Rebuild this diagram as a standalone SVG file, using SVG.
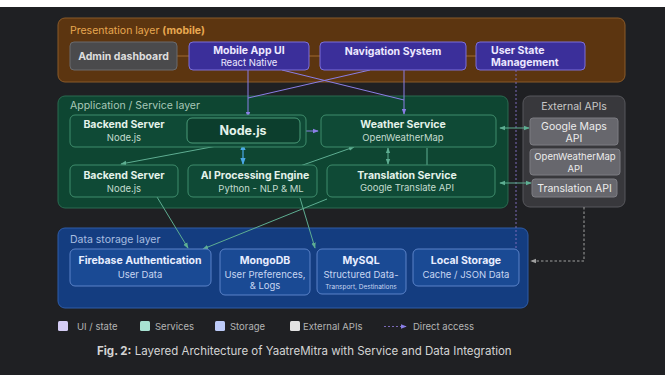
<svg xmlns="http://www.w3.org/2000/svg" width="665" height="392" viewBox="0 0 665 392">
<defs>
<style>
text{font-family:Inter,"Noto Sans","Liberation Sans",sans-serif;}
.lt{font-size:10.5px;}
.b{font-weight:700;font-size:10.5px;}
.s{font-size:9.5px;}
.pn{fill:#3b2f9a;stroke:#7c6fd8;stroke-width:1;}
.pt{fill:#ece8ff;}
.gn{fill:#0f4a36;stroke:#3f8c6c;stroke-width:1;}
.gt{fill:#e4f2ea;}
.gs{fill:#c4dccf;}
.en{fill:#67676d;stroke:#7c7c82;stroke-width:1;}
.et{fill:#ececec;}
.sn{fill:#1a4a94;stroke:#5a82c8;stroke-width:1;}
.st{fill:#e8eeff;}
.ss{fill:#c8d6f2;}
.lp{stroke:#8a7ee6;stroke-width:1;fill:none;}
.lg{stroke:#5eae92;stroke-width:1;fill:none;}
.lb{stroke:#4aa8e6;stroke-width:1.2;fill:none;}
.lo{stroke:#a06a30;stroke-width:1;fill:none;}
.leg{font-size:9.5px;fill:#b4b4b4;}
</style>
<marker id="ap" viewBox="0 0 8 8" refX="7" refY="4" markerWidth="6" markerHeight="6" orient="auto-start-reverse"><path d="M0,1 L8,4 L0,7 z" fill="#8a7ee6"/></marker>
<marker id="ag" viewBox="0 0 8 8" refX="7" refY="4" markerWidth="6" markerHeight="6" orient="auto-start-reverse"><path d="M0,1 L8,4 L0,7 z" fill="#5eae92"/></marker>
<marker id="ab" viewBox="0 0 8 8" refX="7" refY="4" markerWidth="6" markerHeight="6" orient="auto-start-reverse"><path d="M0,1 L8,4 L0,7 z" fill="#4aa8e6"/></marker>
<marker id="ay" viewBox="0 0 8 8" refX="7" refY="4" markerWidth="6" markerHeight="6" orient="auto-start-reverse"><path d="M0,1 L8,4 L0,7 z" fill="#a0a0a0"/></marker>
</defs>
<rect x="0" y="0" width="665" height="392" fill="#ffffff"/>
<rect x="0" y="7" width="665" height="368" fill="#1f2023"/>

<g id="presentation-layer">
<rect x="58" y="18" width="567" height="64" rx="7" fill="#5c3510" stroke="#8a5a28"/>
<text x="70" y="34" class="lt" fill="#e8a850">Presentation layer <tspan font-weight="700">(mobile)</tspan></text>
</g>
<g id="application-layer">
<rect x="58" y="96" width="450" height="112" rx="7" fill="#0e4632" stroke="#2a6a50"/>
<text x="70" y="109" class="lt" fill="#a8c8b8">Application / Service layer</text>
</g>
<g id="external-apis">
<rect x="523" y="96" width="102" height="111" rx="7" fill="#38383c" stroke="#57575c"/>
<text x="574" y="110" class="lt" fill="#c8c8c8" text-anchor="middle">External APIs</text>
</g>
<g id="storage-layer">
<rect x="58" y="228" width="470" height="80" rx="7" fill="#143d80" stroke="#2e5ca8"/>
<text x="70" y="243" class="lt" fill="#a8bee0">Data storage layer</text>
</g>

<g id="connectors">
<line x1="177" y1="56" x2="189" y2="56" class="lo"/>
<line x1="309" y1="56" x2="320" y2="56" class="lo"/>
<line x1="466" y1="56" x2="476" y2="56" class="lo"/>
<line x1="248" y1="70" x2="248" y2="117" class="lp" marker-end="url(#ap)"/>
<line x1="404" y1="70" x2="404" y2="114" class="lp" marker-end="url(#ap)"/>
<line x1="282" y1="70" x2="404" y2="100" class="lp"/>
<line x1="370" y1="70" x2="248" y2="98" class="lp"/>
<line x1="516" y1="70" x2="516" y2="248" stroke="#7a6ab8" stroke-width="1" stroke-dasharray="2,2"/>
<line x1="301" y1="131" x2="318" y2="131" class="lp" marker-start="url(#ap)" marker-end="url(#ap)"/>
<line x1="243" y1="144" x2="243" y2="164" class="lb" marker-start="url(#ab)" marker-end="url(#ab)"/>
<line x1="238" y1="142" x2="121" y2="164" class="lg" marker-end="url(#ag)"/>
<line x1="300" y1="166" x2="354" y2="147" class="lg" marker-end="url(#ag)"/>
<line x1="388" y1="148" x2="388" y2="164" class="lg" marker-start="url(#ag)" marker-end="url(#ag)"/>
<line x1="427" y1="148" x2="427" y2="165" class="lg"/>
<line x1="500" y1="128" x2="529" y2="128" class="lg" marker-start="url(#ag)" marker-end="url(#ag)"/>
<line x1="500" y1="183" x2="531" y2="183" class="lg" marker-start="url(#ag)" marker-end="url(#ag)"/>
<path d="M584,207 L584,261 L531,261" fill="none" stroke="#a0a0a0" stroke-width="1" stroke-dasharray="2.5,2" marker-end="url(#ay)"/>
<line x1="157" y1="197" x2="188" y2="248" class="lg" marker-end="url(#ag)"/>
<line x1="327" y1="199" x2="203" y2="249" class="lg" marker-end="url(#ag)"/>
<line x1="300" y1="198" x2="315" y2="248" class="lg" marker-end="url(#ag)"/>
</g>

<g id="admin-dashboard">
<rect x="70" y="42" width="107" height="28" rx="4" fill="#4a4a4c" stroke="#6a6a6c"/>
<text x="123.5" y="60" class="b" fill="#dedede" text-anchor="middle">Admin dashboard</text>
</g>
<g id="mobile-app-ui">
<rect x="189" y="42" width="120" height="28" rx="4" class="pn"/>
<text x="249" y="54" class="b pt" text-anchor="middle">Mobile App UI</text>
<text x="249" y="66" class="s pt" text-anchor="middle">React Native</text>
</g>
<g id="navigation-system">
<rect x="320" y="42" width="146" height="28" rx="4" class="pn"/>
<text x="393" y="55" class="b pt" text-anchor="middle">Navigation System</text>
</g>
<g id="user-state">
<rect x="476" y="42" width="109" height="28" rx="4" class="pn"/>
<text x="491" y="54" class="b pt">User State</text>
<text x="491" y="66" class="b pt">Management</text>
</g>

<g id="backend-server-top">
<rect x="70" y="115" width="236" height="32" rx="5" class="gn"/>
<text x="124" y="128" class="b gt" text-anchor="middle">Backend Server</text>
<text x="124" y="141" class="s gs" text-anchor="middle">Node.js</text>
</g>
<g id="nodejs">
<rect x="187" y="118" width="113" height="25" rx="5" fill="#0c3e2d" stroke="#4a9a78"/>
<text x="243" y="135" font-weight="700" font-size="12.5px" class="gt" text-anchor="middle">Node.js</text>
</g>
<g id="weather-service">
<rect x="321" y="115" width="175" height="32" rx="5" class="gn"/>
<text x="403" y="128" class="b gt" text-anchor="middle">Weather Service</text>
<text x="403" y="141" class="s gs" text-anchor="middle">OpenWeatherMap</text>
</g>
<g id="backend-server-bottom">
<rect x="70" y="165" width="108" height="32" rx="5" class="gn"/>
<text x="124" y="179" class="b gt" text-anchor="middle">Backend Server</text>
<text x="124" y="192" class="s gs" text-anchor="middle">Node.js</text>
</g>
<g id="ai-engine">
<rect x="188" y="165" width="129" height="32" rx="5" class="gn"/>
<text x="255" y="179" class="b gt" text-anchor="middle">AI Processing Engine</text>
<text x="261" y="192" class="s gs" text-anchor="middle">Python - NLP &amp; ML</text>
</g>
<g id="translation-service">
<rect x="327" y="165" width="168" height="32" rx="5" class="gn"/>
<text x="407" y="179" class="b gt" text-anchor="middle">Translation Service</text>
<text x="407" y="191" class="s gs" text-anchor="middle">Google Translate API</text>
</g>

<g id="google-maps-api">
<rect x="530" y="118" width="88" height="27" rx="3" class="en"/>
<text x="574" y="130" class="lt et" text-anchor="middle">Google Maps</text>
<text x="574" y="142" class="lt et" text-anchor="middle">API</text>
</g>
<g id="openweathermap-api">
<rect x="530" y="149" width="90" height="26" rx="3" class="en"/>
<text x="575" y="160" font-size="9.5px" class="et" text-anchor="middle">OpenWeatherMap</text>
<text x="575" y="172" font-size="9.5px" class="et" text-anchor="middle">API</text>
</g>
<g id="translation-api">
<rect x="532" y="179" width="85" height="18" rx="3" class="en"/>
<text x="574.5" y="191.5" class="lt et" text-anchor="middle">Translation API</text>
</g>

<g id="firebase">
<rect x="70" y="249" width="141" height="37" rx="5" class="sn"/>
<text x="140" y="264" class="b st" text-anchor="middle">Firebase Authentication</text>
<text x="140" y="278" class="s ss" text-anchor="middle">User Data</text>
</g>
<g id="mongodb">
<rect x="220" y="249" width="90" height="46" rx="5" class="sn"/>
<text x="265" y="264" class="b st" text-anchor="middle">MongoDB</text>
<text x="265" y="278" class="s ss" text-anchor="middle">User Preferences,</text>
<text x="265" y="289" class="s ss" text-anchor="middle">&amp; Logs</text>
</g>
<g id="mysql">
<rect x="317" y="249" width="89" height="45" rx="5" class="sn"/>
<text x="361" y="264" class="b st" text-anchor="middle">MySQL</text>
<text x="361" y="278" class="s ss" text-anchor="middle">Structured Data-</text>
<text x="361" y="289" font-size="6.5px" class="ss" text-anchor="middle">Transport, Destinations</text>
</g>
<g id="local-storage">
<rect x="413" y="249" width="106" height="37" rx="5" class="sn"/>
<text x="466" y="264" class="b st" text-anchor="middle">Local Storage</text>
<text x="466" y="278" class="s ss" text-anchor="middle">Cache / JSON Data</text>
</g>

<g id="legend">
<rect x="58" y="321" width="10" height="10" rx="1.5" fill="#d4ccf4"/>
<text x="77" y="330" class="leg">UI / state</text>
<rect x="140" y="321" width="10" height="10" rx="1.5" fill="#a8e2d2"/>
<text x="155" y="330" class="leg">Services</text>
<rect x="215" y="321" width="10" height="10" rx="1.5" fill="#bccaf8"/>
<text x="230" y="330" class="leg">Storage</text>
<rect x="290" y="321" width="10" height="10" rx="1.5" fill="#e2e2e2"/>
<text x="303" y="330" class="leg">External APIs</text>
<line x1="384" y1="326.5" x2="406" y2="326.5" stroke="#7a6ab8" stroke-width="1" stroke-dasharray="2,2" marker-end="url(#ap)"/>
<text x="413" y="330" class="leg">Direct access</text>
</g>
<text x="97" y="355" font-size="11.5px" fill="#d4d4d4"><tspan font-weight="700">Fig. 2:</tspan> Layered Architecture of YaatreMitra with Service and Data Integration</text>
</svg>
